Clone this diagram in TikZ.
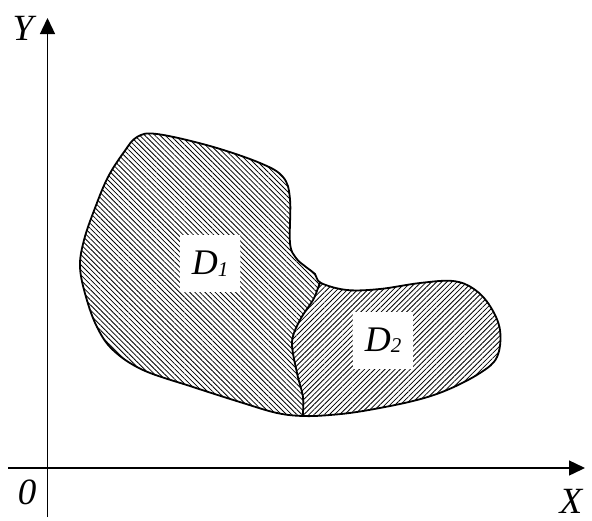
\documentclass[tikz,border=0pt]{standalone}
\usepackage{fontspec}
\setmainfont{Liberation Serif}
\usetikzlibrary{patterns.meta,arrows.meta}
\tikzset{
  axis/.style={line width=1.4pt,-{Triangle[length=16pt,width=15pt]}},
  axlabel/.style={font=\fontsize{37}{40}\selectfont\itshape,inner sep=0pt},
  region/.style={line width=1.8pt},
  hatchA/.style={pattern={Lines[angle=-45,distance=3.6pt,line width=0.8pt]}},
  hatchB/.style={pattern={Lines[angle=45,distance=3.6pt,line width=0.8pt]}},
  lblbox/.style={fill=white,inner sep=0pt,minimum width=60pt,minimum height=57pt,
    font=\fontsize{36}{40}\selectfont\itshape}
}
\newcommand{\subdig}[1]{{\fontsize{21}{22}\selectfont\raisebox{-1.5pt}{#1}}}
\begin{document}
\begin{tikzpicture}[x=1pt,y=-1pt]
\useasboundingbox (0,0) rectangle (592,520);
% region outline
\def\outline{plot[smooth cycle,tension=0.6] coordinates {
 (137,137) (157,134) (210,146) (260,163) (283,177) (290,199) (290,243)
 (296,258) (306,267) (315,274) (321,283) (347,290) (380,289) (420,283)
 (453,281) (474,289) (490,306) (500,330) (497,357) (480,373) (447,390)
 (413,401) (363,411) (330,415) (303,416) (277,413) (243,403) (193,387)
 (143,370) (113,350) (97,327) (86,297) (80,267) (84,240) (95,208)
 (108,177) (124,152)}}
\def\divider{plot[smooth,tension=0.55] coordinates {
 (323,274) (318,288) (313,300) (300,320) (292,342) (297,373) (303,397) (303,415) (304,426)}}
\fill[white] \outline;
\fill[hatchA] \outline;
\begin{scope}
  \clip \outline;
  \fill[white] \divider -- (600,426) -- (600,230) -- (323,230) -- cycle;
  \fill[hatchB] \divider -- (600,426) -- (600,230) -- (323,230) -- cycle;
  \draw[region] \divider;
\end{scope}
\draw[region] \outline;
% labels
\node[lblbox] (d1) at (210,263.5) {D\subdig{1}};
\node[lblbox] (d2) at (383,340) {D\subdig{2}};
% axes
\coordinate (xstart) at (8,468);
\coordinate (xend) at (585,468);
\coordinate (ystart) at (47.5,517);
\coordinate (yend) at (47.5,18);
\draw[axis] (xstart) -- (xend);
\draw[axis] (ystart) -- (yend);
\node[axlabel] (ylab) at (23,28) {Y};
\node[axlabel] (olab) at (27,492) {0};
\node[axlabel] (xlab) at (571,501) {X};
\end{tikzpicture}
\end{document}
